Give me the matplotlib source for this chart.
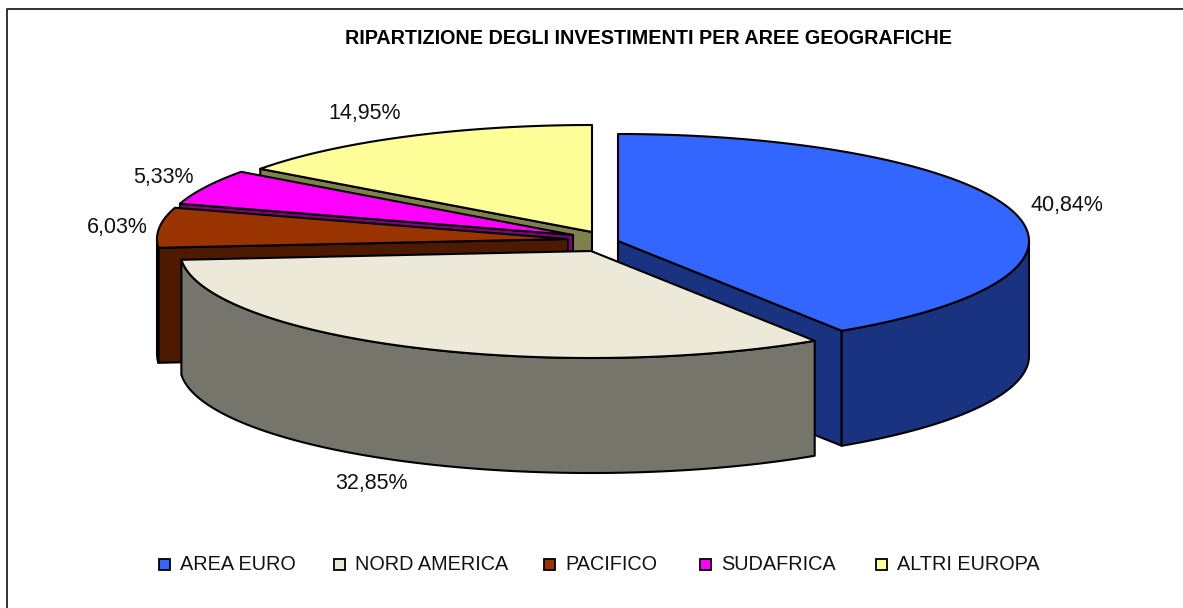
import numpy as np
from matplotlib import pyplot as plt
from matplotlib.patches import Polygon, Rectangle

# data
categories = ["AREA EURO", "NORD AMERICA", "PACIFICO", "SUDAFRICA", "ALTRI EUROPA"]
shares = [40.84, 32.85, 6.03, 5.33, 14.95]
share_labels = ["40,84%", "32,85%", "6,03%", "5,33%", "14,95%"]

# styles
top_colors = ["#3366FF", "#ECE9D8", "#993300", "#FF00FF", "#FFFF99"]
side_colors = ["#1A3380", "#76756C", "#4D1A00", "#800080", "#80804D"]

# layout, in pixels of the picture
apex_x = [618, 591, 568, 573, 592]
apex_y = [241, 251, 239, 235, 232]
radius_x = 411
radius_y = 107
depth = 115
label_x = [1067, 371, 117, 163, 365]
label_y = [205, 484, 227, 177, 113]
legend_box_x = [165, 340, 550, 706, 882]
legend_text_x = [180, 355, 565, 721, 897]
legend_y = 564

plt.rcParams["font.family"] = ["Liberation Sans", "DejaVu Sans"]

fig = plt.figure(figsize=(11.83, 6.08), dpi=100)
ax = fig.add_axes([0, 0, 1, 1])
ax.set_xlim(0, 1183)
ax.set_ylim(608, 0)
ax.axis("off")

# the frame only shows on the left and on top, the rest is cut off
ax.plot([7, 7, 1183], [608, 8.5, 8.5], color="#222222", linewidth=1.3, zorder=1)

# clockwise angles from 12 o'clock, taken from the shares
ends = np.cumsum(shares) / sum(shares) * 360
starts = np.concatenate([[0], ends[:-1]])


def rim_points(i, angles):
    rad = np.radians(angles)
    return np.column_stack([apex_x[i] + radius_x * np.sin(rad), apex_y[i] - radius_y * np.cos(rad)])


def draw_shape(points, color, zorder):
    ax.add_patch(Polygon(points, closed=True, facecolor=color, edgecolor="black",
                         linewidth=1.5, joinstyle="round", zorder=zorder))


# back slices first, so the front ones cover them
draw_order = [4, 3, 2, 0, 1]
for z, i in enumerate(draw_order):
    zorder = 2 + z
    apex = np.array([apex_x[i], apex_y[i]], dtype=float)
    down = np.array([0, depth])

    # cut face seen from the front
    if starts[i] > 180:
        edge = rim_points(i, [starts[i]])[0]
        draw_shape([apex, edge, edge + down, apex + down], side_colors[i], zorder)
    if i == 0:
        edge = rim_points(i, [ends[i]])[0]
        draw_shape([apex, edge, edge + down, apex + down], side_colors[i], zorder)

    # outer wall, only the part facing us
    wall_from = max(starts[i], 90)
    wall_to = min(ends[i], 270)
    if wall_to > wall_from:
        arc = rim_points(i, np.linspace(wall_from, wall_to, 80))
        draw_shape(np.vstack([arc, arc[::-1] + down]), side_colors[i], zorder)

    # top of the slice
    arc = rim_points(i, np.linspace(starts[i], ends[i], 120))
    draw_shape(np.vstack([apex, arc]), top_colors[i], zorder)

for i in range(len(shares)):
    ax.text(label_x[i], label_y[i], share_labels[i], fontsize=15.5, color="#111111",
            ha="center", va="center", zorder=20)
    ax.add_patch(Rectangle((legend_box_x[i] - 5.5, legend_y - 5.5), 11, 11, facecolor=top_colors[i],
                           edgecolor="black", linewidth=1.3, zorder=20))
    ax.text(legend_text_x[i], legend_y + 1, categories[i], fontsize=14.3, color="#111111",
            ha="left", va="center", zorder=20)

ax.text(649, 38, "RIPARTIZIONE DEGLI INVESTIMENTI PER AREE GEOGRAFICHE", fontsize=14.2,
        fontweight="bold", color="black", ha="center", va="center", zorder=20)

fig.savefig("out.png", dpi=100)
